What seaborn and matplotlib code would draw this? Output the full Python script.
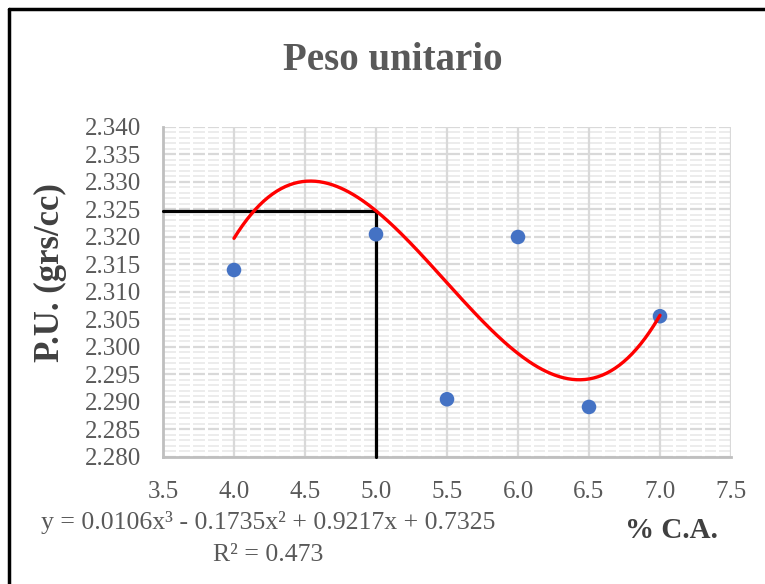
import numpy as np
import pandas as pd
import matplotlib
matplotlib.use("Agg")
import matplotlib.pyplot as plt
from matplotlib.ticker import MultipleLocator, FormatStrFormatter
from matplotlib.lines import Line2D
import seaborn as sns

# ---- data ----
pct_ca = [4.0, 5.0, 5.5, 6.0, 6.5, 7.0]
peso_unitario = [2.3140, 2.3205, 2.2905, 2.3200, 2.2891, 2.3056]
# trendline (polynomial, order 3) as drawn in the chart, read at these x values
trend_x = [4.0, 4.5, 5.0, 5.5, 6.0, 6.5, 7.0]
trend_y = [2.3198, 2.3300, 2.3249, 2.3116, 2.2989, 2.2941, 2.3058]
design_pct = 5.0
title = "Peso unitario"
xlabel = "% C.A."
ylabel = "P.U. (grs/cc)"
equation = "y = 0.0106x\u00b3 - 0.1735x\u00b2 + 0.9217x + 0.7325"
r2_text = "R\u00b2 = 0.473"

sns.set_theme(style="white")
plt.rcParams["font.family"] = ["Liberation Serif", "DejaVu Serif"]

df = pd.DataFrame({"x": pct_ca, "y": peso_unitario})
coef = np.polyfit(trend_x, trend_y, 3)
xs = np.linspace(min(trend_x), max(trend_x), 200)
fit = pd.DataFrame({"x": xs, "y": np.polyval(coef, xs)})
y_design = float(np.polyval(coef, design_pct))

fig = plt.figure(figsize=(7.65, 5.84), dpi=100)
ax = fig.add_axes([163 / 765, 1 - 457 / 584, (731 - 163) / 765, (457 - 127) / 584])

ax.set_xlim(3.5, 7.5)
ax.set_ylim(2.280, 2.340)
ax.xaxis.set_major_locator(MultipleLocator(0.5))
ax.xaxis.set_minor_locator(MultipleLocator(0.1))
ax.yaxis.set_major_locator(MultipleLocator(0.005))
ax.yaxis.set_minor_locator(MultipleLocator(0.001))
ax.xaxis.set_major_formatter(FormatStrFormatter("%.1f"))
ax.yaxis.set_major_formatter(FormatStrFormatter("%.3f"))

ax.set_axisbelow(True)
ax.yaxis.set_zorder(0.3)
ax.xaxis.set_zorder(0.4)
ax.grid(True, which="minor", axis="y", color="#ebebeb", linewidth=1.3)
ax.grid(True, which="major", axis="y", color="#d9d9d9", linewidth=1.6)
ax.grid(True, which="minor", axis="x", color="white", linewidth=2.2)
ax.grid(True, which="major", axis="x", color="#d9d9d9", linewidth=1.6)

ax.tick_params(axis="both", which="both", length=0)
ax.tick_params(axis="x", which="major", pad=17, labelsize=18, labelcolor="#595959")
ax.tick_params(axis="y", which="major", pad=16, labelsize=18, labelcolor="#595959")

for s in ["top", "right"]:
    ax.spines[s].set_visible(False)
for s in ["left", "bottom"]:
    ax.spines[s].set_color("#bfbfbf")
    ax.spines[s].set_linewidth(2)

# reference lines at design asphalt content
ax.plot([3.5, design_pct], [y_design, y_design], color="black", lw=2.3, zorder=3, clip_on=False)
ax.plot([design_pct, design_pct], [2.280, y_design], color="black", lw=2.3, zorder=3, clip_on=False)

sns.scatterplot(data=df, x="x", y="y", ax=ax, color="#4472C4", s=110, edgecolor="none", zorder=4)
sns.lineplot(data=fit, x="x", y="y", ax=ax, color="#FF0000", lw=2.4, zorder=5)

ax.set_xlabel("")
ax.set_ylabel("")

fig.text(393 / 765, 1 - 60 / 584, title, ha="center", va="center", fontsize=28,
         fontweight="bold", color="#595959")
fig.text(50 / 765, 1 - 273 / 584, ylabel, ha="center", va="center", rotation=90,
         fontsize=25, fontweight="bold", color="#404040")
fig.text(671 / 765, 1 - 530 / 584, xlabel, ha="center", va="center", fontsize=21,
         fontweight="bold", color="#404040")
fig.text(268 / 765, 1 - 522 / 584, equation, ha="center", va="center", fontsize=18.5,
         color="#595959")
fig.text(268 / 765, 1 - 555 / 584, r2_text, ha="center", va="center", fontsize=18.5,
         color="#595959")

# outer chart frame (left and top edges visible)
fig.add_artist(Line2D([9 / 765, 9 / 765], [0, 1 - 9 / 584], transform=fig.transFigure,
                      color="black", lw=2.5))
fig.add_artist(Line2D([9 / 765, 1], [1 - 9 / 584, 1 - 9 / 584], transform=fig.transFigure,
                      color="black", lw=2.5))

fig.savefig("out.png", dpi=100)
